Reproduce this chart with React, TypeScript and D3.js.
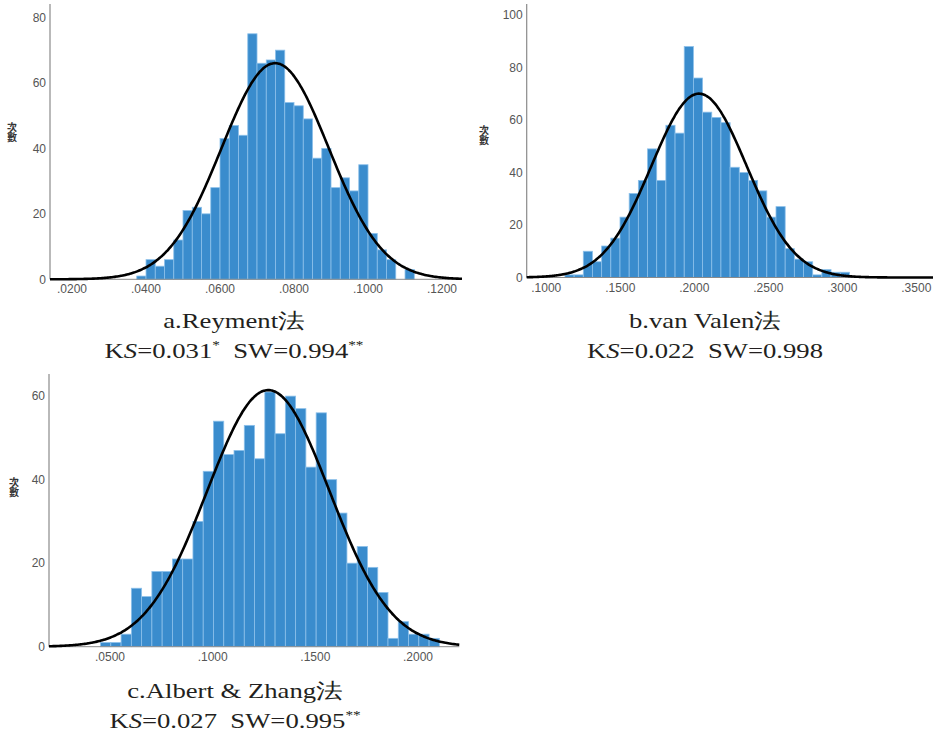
import React from "react";
import * as d3 from "d3";

// ---------- data ----------
const countsA = [1, 6, 4, 6, 12, 21, 22, 20, 28, 43, 47, 44, 75, 66, 67, 70, 54, 53, 49, 37, 40, 28, 31, 27, 35, 14, 9, 6, 0, 3];
const binStartA = 0.0375;
const binWidthA = 0.0025;
const xTicksA = [0.02, 0.04, 0.06, 0.08, 0.1, 0.12];
const yTicksA = [0, 20, 40, 60, 80];
const fitA = { mean: 0.0749, sd: 0.0145, n: 960 };

const countsB = [1, 1, 10, 6, 12, 15, 23, 32, 37, 49, 37, 58, 55, 88, 76, 63, 61, 59, 42, 40, 37, 33, 23, 27, 11, 7, 6, 1, 3, 2, 2];
const binStartB = 0.1126;
const binWidthB = 0.0062;
const xTicksB = [0.1, 0.15, 0.2, 0.25, 0.3, 0.35];
const yTicksB = [0, 20, 40, 60, 80, 100];
const fitB = { mean: 0.2032, sd: 0.0322, n: 912 };

const countsC = [1, 1, 3, 14, 12, 18, 18, 21, 21, 30, 42, 54, 46, 47, 53, 45, 61, 51, 60, 57, 43, 56, 40, 32, 20, 24, 19, 13, 2, 6, 3, 3, 2];
const binStartC = 0.0454;
const binWidthC = 0.005;
const xTicksC = [0.05, 0.1, 0.15, 0.2];
const yTicksC = [0, 20, 40, 60];
const fitC = { mean: 0.1271, sd: 0.0298, n: 918 };

const yTitle = "次數";
const titleA = "a.Reyment法";
const titleB = "b.van Valen法";
const titleC = "c.Albert & Zhang法";
const statsA = { ks: "0.031", ksStar: "*", sw: "0.994", swStar: "**" };
const statsB = { ks: "0.022", ksStar: "", sw: "0.998", swStar: "" };
const statsC = { ks: "0.027", ksStar: "", sw: "0.995", swStar: "**" };

// ---------- styles ----------
const BAR_FILL = "#3a8ccd";
const BAR_STROKE = "#8cc0ea";
const AXIS = "#8a8a8a";
const TICK_TEXT = "#555";
const SANS = "'Liberation Sans', Arial, sans-serif";
const SERIF = "'Liberation Serif', 'Times New Roman', serif";

const fmtTick = (v: number) => d3.format(".4f")(v).replace(/^0/, "");

function Histogram(props: any) {
  const { counts, binStart, binWidth, xDomain, yMax, xTicks, yTicks, left, right, top, base, fit, yTitleX, yTitleY } = props;
  const x = d3.scaleLinear().domain(xDomain).range([left, right]);
  const y = d3.scaleLinear().domain([0, yMax]).range([base, top]);
  const k = (fit.n * binWidth) / (fit.sd * Math.sqrt(2 * Math.PI));
  const pts = d3.range(0, 301).map((i) => {
    const xv = xDomain[0] + ((xDomain[1] - xDomain[0]) * i) / 300;
    const z = (xv - fit.mean) / fit.sd;
    return [xv, k * Math.exp(-0.5 * z * z)] as [number, number];
  });
  const line = d3.line<[number, number]>().x((d) => x(d[0])).y((d) => y(d[1])).curve(d3.curveBasis);
  return (
    <g>
      {counts.map((c: number, i: number) =>
        c > 0 ? (
          <rect
            key={i}
            x={x(binStart + i * binWidth)}
            y={y(c)}
            width={x(binStart + (i + 1) * binWidth) - x(binStart + i * binWidth)}
            height={y(0) - y(c)}
            fill={BAR_FILL}
            stroke={BAR_STROKE}
            strokeWidth={0.8}
          />
        ) : null
      )}
      <line x1={left} x2={left} y1={top} y2={base} stroke={AXIS} strokeWidth={1.2} />
      <line x1={left} x2={right} y1={base} y2={base} stroke={AXIS} strokeWidth={1} />
      <path d={line(pts) || ""} fill="none" stroke="#000" strokeWidth={2.6} />
      {yTicks.map((t: number) => (
        <text key={"y" + t} x={left - 4} y={y(t)} dy="0.35em" textAnchor="end" fontFamily={SANS} fontSize={12} fill={TICK_TEXT}>
          {t}
        </text>
      ))}
      {xTicks.map((t: number) => (
        <text key={"x" + t} x={x(t)} y={base + 14} textAnchor="middle" fontFamily={SANS} fontSize={12} fill={TICK_TEXT}>
          {fmtTick(t)}
        </text>
      ))}
      <text
        x={yTitleX}
        y={yTitleY}
        textAnchor="middle"
        style={{ writingMode: "vertical-rl" as any }}
        fontFamily="'Noto Sans CJK TC', sans-serif"
        fontSize={10}
        fontWeight={700}
        fill="#333"
      >
        {yTitle}
      </text>
    </g>
  );
}

function Caption({ cx, y, title, stats }: any) {
  const sx = 1.27;
  return (
    <g fill="#231f20" fontFamily={SERIF} fontSize={21}>
      <g transform={`translate(${cx},${y}) scale(${sx},1)`}>
        <text textAnchor="middle">{title}</text>
      </g>
      <g transform={`translate(${cx},${y + 30}) scale(${sx},1)`}>
        <text textAnchor="middle">
          K<tspan fontStyle="italic">S</tspan>={stats.ks}
          {stats.ksStar ? <tspan fontSize={12} dy={-9}>{stats.ksStar}</tspan> : null}
          <tspan dy={stats.ksStar ? 9 : 0}>{"\u00a0\u00a0"}SW={stats.sw}</tspan>
          {stats.swStar ? <tspan fontSize={12} dy={-9}>{stats.swStar}</tspan> : null}
        </text>
      </g>
    </g>
  );
}

export default function App() {
  return (
    <svg width={938} height={736} style={{ display: "block", position: "absolute", left: 0, top: 0, background: "#fff" }}>
      <Histogram
        counts={countsA}
        binStart={binStartA}
        binWidth={binWidthA}
        xDomain={[0.01405, 0.1254]}
        yMax={84.1}
        xTicks={xTicksA}
        yTicks={yTicksA}
        left={50}
        right={462}
        top={4}
        base={279.3}
        fit={fitA}
        yTitleX={12}
        yTitleY={132}
      />
      <Histogram
        counts={countsB}
        binStart={binStartB}
        binWidth={binWidthB}
        xDomain={[0.08676, 0.36128]}
        yMax={104.2}
        xTicks={xTicksB}
        yTicks={yTicksB}
        left={526.7}
        right={933}
        top={4}
        base={277.5}
        fit={fitB}
        yTitleX={484}
        yTitleY={135}
      />
      <Histogram
        counts={countsC}
        binStart={binStartC}
        binWidth={binWidthC}
        xDomain={[0.02029, 0.22012]}
        yMax={65.3}
        xTicks={xTicksC}
        yTicks={yTicksC}
        left={49}
        right={459.3}
        top={374}
        base={646.7}
        fit={fitC}
        yTitleX={14}
        yTitleY={487}
      />
      <Caption cx={234} y={328} title={titleA} stats={statsA} />
      <Caption cx={705} y={328} title={titleB} stats={statsB} />
      <Caption cx={235} y={698} title={titleC} stats={statsC} />
    </svg>
  );
}
